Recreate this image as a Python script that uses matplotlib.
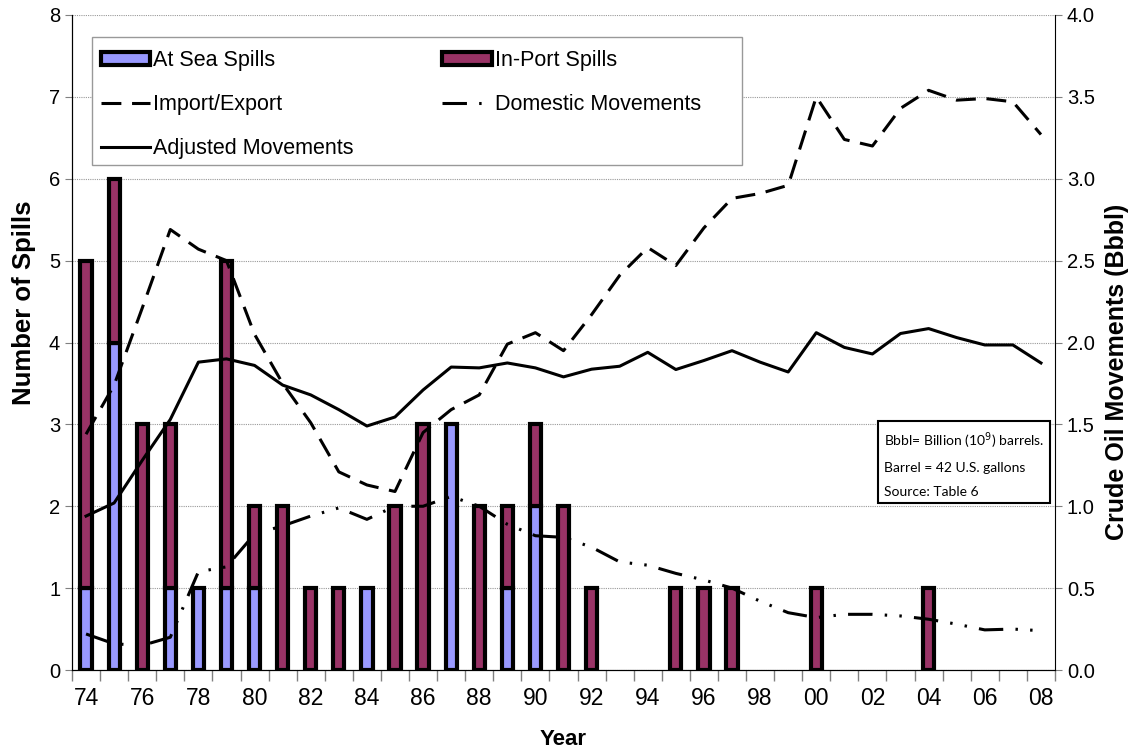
import matplotlib
matplotlib.use("Agg")
import matplotlib.pyplot as plt
import numpy as np
from matplotlib.patches import Patch, Rectangle
from matplotlib.lines import Line2D

plt.rcParams['font.family'] = ['Liberation Sans', 'DejaVu Sans']

years = list(range(1974, 2009))
year_labels = [f"{y % 100:02d}" for y in years]

at_sea = [1, 4, 0, 1, 1, 1, 1, 0, 0, 0, 1, 0, 0, 3, 0, 1, 2, 0, 0, 0, 0, 0, 0, 0,
          0, 0, 0, 0, 0, 0, 0, 0, 0, 0, 0]
in_port = [4, 2, 3, 2, 0, 4, 1, 2, 1, 1, 0, 2, 3, 0, 2, 1, 1, 2, 1, 0, 0, 1, 1, 1,
           0, 0, 1, 0, 0, 0, 1, 0, 0, 0, 0]

import_export = [1.44, 1.74, 2.21, 2.69, 2.57, 2.50, 2.05, 1.75, 1.51, 1.21, 1.13, 1.09,
                 1.45, 1.59, 1.68, 1.99, 2.06, 1.95, 2.17, 2.41, 2.58, 2.47, 2.70, 2.88,
                 2.91, 2.96, 3.50, 3.24, 3.20, 3.43, 3.54, 3.48, 3.49, 3.47, 3.27]
domestic = [0.22, 0.16, 0.15, 0.20, 0.60, 0.63, 0.83, 0.88, 0.94, 0.99, 0.92, 1.00,
            1.00, 1.06, 1.00, 0.89, 0.82, 0.81, 0.75, 0.66, 0.64, 0.59, 0.55, 0.50,
            0.42, 0.35, 0.32, 0.34, 0.34, 0.33, 0.31, 0.28, 0.245, 0.25, 0.24]
adjusted = [0.94, 1.02, 1.28, 1.53, 1.88, 1.90, 1.86, 1.74, 1.68, 1.59, 1.49, 1.545,
            1.71, 1.85, 1.845, 1.875, 1.845, 1.79, 1.837, 1.855, 1.94, 1.835, 1.89, 1.95,
            1.88, 1.82, 2.06, 1.97, 1.93, 2.055, 2.085, 2.03, 1.985, 1.985, 1.875]

note_lines = ["Bbbl= Billion (10$^9$) barrels.", "Barrel = 42 U.S. gallons", "Source: Table 6"]

blue = '#9999FF'
maroon = '#993366'

W, H = 1135, 755
L, R, T, B = 72, 1055, 15, 670
fig = plt.figure(figsize=(W / 100, H / 100), dpi=100)
ax = fig.add_axes([L / W, (H - B) / H, (R - L) / W, (B - T) / H])
x = np.arange(len(years))
sea = np.array(at_sea, dtype=float)
port = np.array(in_port, dtype=float)

bw = 0.4
blw = 3.0
ms = sea > 0
ax.bar(x[ms], sea[ms], width=bw, color=blue, edgecolor='black', linewidth=blw, zorder=3)
mp = port > 0
ax.bar(x[mp], port[mp], width=bw, bottom=sea[mp], color=maroon, edgecolor='black',
       linewidth=blw, zorder=3)

ax.set_xlim(-0.5, len(years) - 0.5)
ax.set_ylim(0, 8)
ax.set_yticks(range(0, 9))
ax.yaxis.grid(True, linestyle=(0, (1, 1)), color='#999999', linewidth=0.8, zorder=0)
ax.set_axisbelow(True)
ax.set_xticks(x[::2])
ax.set_xticklabels(year_labels[::2])
ax.set_xticks(np.arange(-0.5, len(years), 1.0), minor=True)
ax.tick_params(axis='x', which='major', length=0, labelsize=16.5, pad=12)
ax.tick_params(axis='x', which='minor', length=8, color='#808080', width=1)
ax.tick_params(axis='y', labelsize=14.5, length=5, direction='out', color='#808080')
ax.spines['top'].set_visible(False)
ax.spines['right'].set_visible(False)
ax.set_ylabel('Number of Spills', fontsize=18.5, fontweight='bold', labelpad=9)
ax.yaxis.label.set_y(0.56)
ax.set_xlabel('Year', fontsize=16, fontweight='bold', labelpad=14)

ax2 = ax.twinx()
ax2.set_ylim(0, 4.0)
ax2.set_yticks(np.arange(0, 4.01, 0.5))
ax2.set_yticklabels([f"{v:.1f}" for v in np.arange(0, 4.01, 0.5)])
ax2.tick_params(axis='y', labelsize=14.5, length=5, direction='out', color='#808080')
ax2.spines['top'].set_visible(False)
ax2.set_ylabel('Crude Oil Movements (Bbbl)', fontsize=18, fontweight='bold', labelpad=7)
ax2.yaxis.label.set_y(0.455)

lw = 2.2
ie_style = (0, (6.5, 3.5))
dom_style = (0, (8, 4, 0.8, 4, 0.8, 4))
ax2.plot(x, import_export, color='black', linewidth=lw, linestyle=ie_style)
ax2.plot(x, domestic, color='black', linewidth=lw, linestyle=dom_style)
ax2.plot(x, adjusted, color='black', linewidth=lw, linestyle='-')

# legend frame (pixel box converted to axes fraction)
def ax_frac(px, py):
    return (px - L) / (R - L), (B - py) / (B - T)

fx0, fy1 = ax_frac(92, 37)
fx1, fy0 = ax_frac(742, 165)
ax2.add_patch(Rectangle((fx0, fy0), fx1 - fx0, fy1 - fy0, transform=ax2.transAxes,
                        facecolor='white', edgecolor='#999999', linewidth=1.0, zorder=4))

handles = [
    Patch(facecolor=blue, edgecolor='black', linewidth=blw, label='At Sea Spills'),
    Line2D([], [], color='black', linewidth=lw, linestyle=ie_style, label='Import/Export'),
    Line2D([], [], color='black', linewidth=lw, label='Adjusted Movements'),
    Patch(facecolor=maroon, edgecolor='black', linewidth=blw, label='In-Port Spills'),
    Line2D([], [], color='black', linewidth=lw, linestyle=dom_style, label='Domestic Movements'),
]
ax0, ay0 = ax_frac(91, 40)
leg = ax2.legend(handles=handles, ncol=2, loc='upper left', bbox_to_anchor=(ax0, ay0),
                 fontsize=15.5, frameon=False,
                 handlelength=2.3, handleheight=0.55, handletextpad=0.15,
                 columnspacing=4.1, labelspacing=1.08, borderpad=0.45, borderaxespad=0)
leg.set_zorder(6)

tx, ty = ax_frac(884, 430)
note = ax2.text(tx, ty, "\n".join(note_lines), transform=ax2.transAxes, fontsize=10,
                family=['Lato', 'DejaVu Sans'], va='top', ha='left', multialignment='left',
                linespacing=2.15,
                bbox=dict(boxstyle='square,pad=0.4', facecolor='white', edgecolor='black',
                          linewidth=1.5), zorder=7)
# fit note font size so that the first line is about 160 px wide
r = fig.canvas.get_renderer()
probe = fig.text(0, 0, note_lines[0], fontsize=10, family=['Lato', 'DejaVu Sans'])
w = probe.get_window_extent(r).width
probe.remove()
note.set_fontsize(10 * 160.0 / w)

fig.savefig('out.png', dpi=100)
